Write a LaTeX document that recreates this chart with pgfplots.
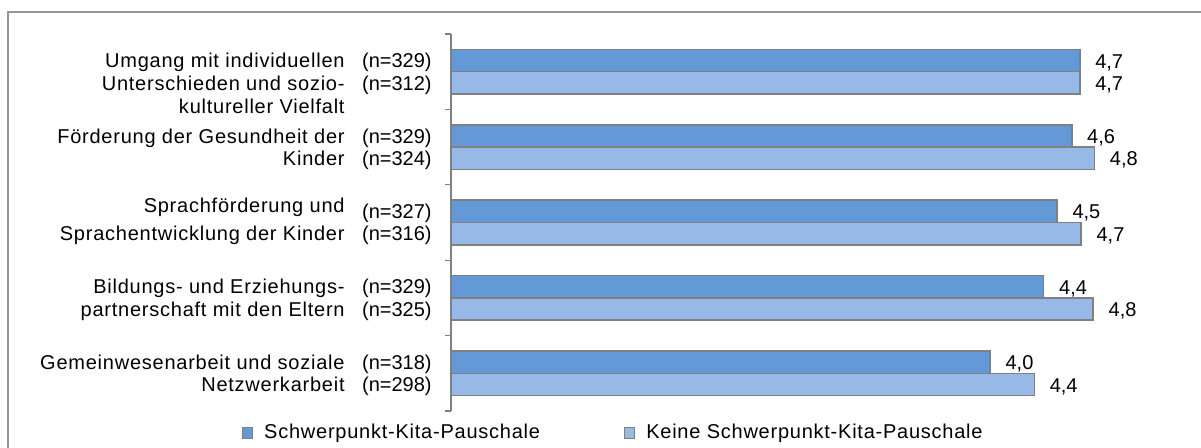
\documentclass[border=0pt]{standalone}
\usepackage{fontspec}
\setmainfont{Liberation Sans}
\newfontfamily\lsfont[LetterSpace=3.8]{Liberation Sans}
\usepackage{pgfplots}
\pgfplotsset{compat=1.18}
\definecolor{barA}{RGB}{100,153,216}
\definecolor{barB}{RGB}{150,185,232}
\definecolor{edge}{RGB}{128,128,128}
\definecolor{frame}{RGB}{150,150,150}
\newcommand{\lbl}{\fontsize{10}{11.5}\selectfont}
\newcommand{\clbl}{\lsfont\fontsize{10}{11.5}\selectfont}
\pgfplotsset{sqlegend/.style={legend image code/.code={\draw[##1,line width=0.5pt] (0pt,-2.6pt) rectangle (5pt,2.6pt); \path (8.5pt,0pt);}}}
\begin{document}
\begin{tikzpicture}[x=1pt,y=1pt]
\useasboundingbox (0,0) rectangle (600.5,224);
\fill[white] (0,0) rectangle (600.5,224);
\draw[frame, line width=0.8pt] (4,-20) -- (4,218) -- (620,218);
\begin{axis}[
  at={(225.5pt,18.5pt)}, anchor=south west,
  scale only axis, width=334.5pt, height=188.5pt,
  xmin=0, xmax=5, ymin=-0.5, ymax=4.5, y dir=reverse,
  enlargelimits=false, clip=false,
  axis x line=none, axis y line*=left,
  y axis line style={draw=edge, line width=0.6pt},
  ytick={-0.5,0.5,1.5,2.5,3.5,4.5}, yticklabels={},
  tick style={draw=edge, line width=0.6pt},
  major tick length=3pt, tick align=outside,
  point meta=x,
  nodes near coords={\pgfmathprintnumber[fixed,precision=1,use comma,fixed zerofill,assume math mode=true]{\pgfplotspointmeta}},
  nodes near coords style={anchor=west, font=\lbl, xshift=4pt, text=black},
  legend columns=2,
  legend style={at={(axis description cs:-0.313,-0.058)}, anchor=west, draw=none, fill=none,
    inner sep=0pt, font=\clbl, /tikz/every even column/.append style={column sep=40pt}},
]
\addplot[xbar, bar width=0.296, bar shift=-0.148, fill=barA, draw=edge, line width=0.75pt, sqlegend,
  every node near coord/.append style={yshift=4.6pt}]
  coordinates {(4.70,0) (4.64,1) (4.53,2) (4.43,3) (4.03,4)};
\addplot[xbar, bar width=0.296, bar shift=0.148, fill=barB, draw=edge, line width=0.75pt, sqlegend,
  every node near coord/.append style={yshift=-6.6pt}]
  coordinates {(4.70,0) (4.81,1) (4.71,2) (4.80,3) (4.36,4)};
\legend{Schwerpunkt-Kita-Pauschale, Keine Schwerpunkt-Kita-Pauschale}
% category labels
\tikzset{cl/.style={anchor=base east, inner sep=0pt, font=\clbl, xshift=-53pt, yshift=-3.6pt},
         nl/.style={anchor=base east, inner sep=0pt, font=\lbl, xshift=-9.5pt, yshift=-3.6pt}}
\node[cl] at (axis cs:0,-0.148) {Umgang mit individuellen};
\node[cl] at (axis cs:0,0.148) {Unterschieden und sozio-};
\node[cl] at (axis cs:0,0.453) {kultureller Vielfalt};
\node[nl] at (axis cs:0,-0.148) {(n=329)};
\node[nl] at (axis cs:0,0.148) {(n=312)};
\node[cl] at (axis cs:0,0.852) {Förderung der Gesundheit der};
\node[cl] at (axis cs:0,1.148) {Kinder};
\node[nl] at (axis cs:0,0.852) {(n=329)};
\node[nl] at (axis cs:0,1.148) {(n=324)};
\node[cl] at (axis cs:0,1.772) {Sprachförderung und};
\node[cl] at (axis cs:0,2.148) {Sprachentwicklung der Kinder};
\node[nl] at (axis cs:0,1.852) {(n=327)};
\node[nl] at (axis cs:0,2.148) {(n=316)};
\node[cl] at (axis cs:0,2.852) {Bildungs- und Erziehungs-};
\node[cl] at (axis cs:0,3.148) {partnerschaft mit den Eltern};
\node[nl] at (axis cs:0,2.852) {(n=329)};
\node[nl] at (axis cs:0,3.148) {(n=325)};
\node[cl] at (axis cs:0,3.852) {Gemeinwesenarbeit und soziale};
\node[cl] at (axis cs:0,4.148) {Netzwerkarbeit};
\node[nl] at (axis cs:0,3.852) {(n=318)};
\node[nl] at (axis cs:0,4.148) {(n=298)};
\end{axis}
\end{tikzpicture}
\end{document}
